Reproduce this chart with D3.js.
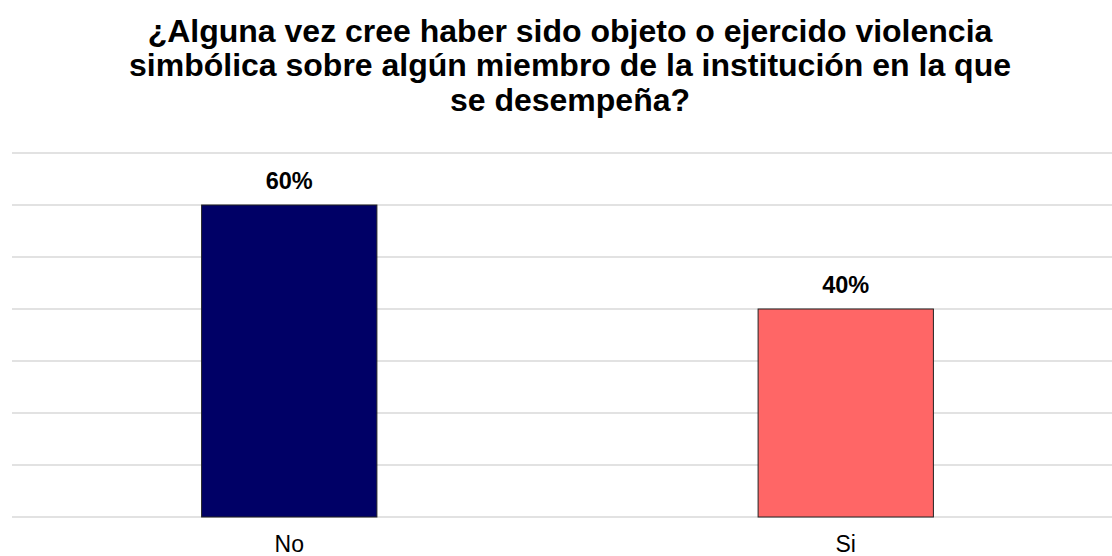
<!DOCTYPE html>
<html>
<head>
<meta charset="utf-8">
<script src="https://cdn.jsdelivr.net/npm/d3@7"></script>
<style>
  html, body { margin: 0; padding: 0; background: #fff; }
  svg { display: block; }
</style>
</head>
<body>
<script>
const categories = ["No", "Si"];
const values = [60, 40];
const colors = ["#000066", "#ff6666"];
const gridTicks = [0, 10, 20, 30, 40, 50, 60, 70];
const titleLines = [
  "¿Alguna vez cree haber sido objeto o ejercido violencia",
  "simbólica sobre algún miembro de la institución en la que",
  "se desempeña?"
];

const W = 1112, H = 556;
const svg = d3.select("body").append("svg").attr("width", W).attr("height", H);

const x = d3.scaleBand().domain(categories).range([11, 1124]).padding(0);
const y = d3.scaleLinear().domain([0, 70]).range([517, 153]);
const barW = x.bandwidth() * 0.315;

svg.append("g").selectAll("line").data(gridTicks).join("line")
  .attr("x1", 12).attr("x2", W)
  .attr("y1", d => y(d)).attr("y2", d => y(d))
  .attr("stroke", "#d9d9d9").attr("stroke-width", 1.5);

svg.append("g").selectAll("rect").data(values).join("rect")
  .attr("x", (d, i) => x(categories[i]) + x.bandwidth() / 2 - barW / 2)
  .attr("width", barW)
  .attr("y", d => y(d))
  .attr("height", d => y(0) - y(d))
  .attr("fill", (d, i) => colors[i])
  .attr("stroke", "#222").attr("stroke-width", 1);

svg.append("g").selectAll("text").data(values).join("text")
  .attr("x", (d, i) => x(categories[i]) + x.bandwidth() / 2)
  .attr("y", d => y(d) - 16)
  .attr("text-anchor", "middle")
  .attr("font-family", "Liberation Sans, Arial, sans-serif")
  .attr("font-weight", "bold").attr("font-size", 23.5)
  .attr("fill", "#000")
  .text(d => d + "%");

const xAxis = d3.axisBottom(x).tickSize(0).tickPadding(0);
const gx = svg.append("g").attr("transform", `translate(0,${y(0)})`).call(xAxis);
gx.select(".domain").remove();
gx.selectAll("text")
  .attr("y", 34.5).attr("dy", 0)
  .attr("font-family", "Liberation Sans, Arial, sans-serif")
  .attr("font-size", 23).attr("fill", "#000");

svg.append("g").selectAll("text").data(titleLines).join("text")
  .attr("x", 570)
  .attr("y", (d, i) => 41.5 + i * 34.5)
  .attr("text-anchor", "middle")
  .attr("font-family", "Liberation Sans, Arial, sans-serif")
  .attr("font-weight", "bold").attr("font-size", 32)
  .attr("fill", "#000")
  .text(d => d);
</script>
</body>
</html>
